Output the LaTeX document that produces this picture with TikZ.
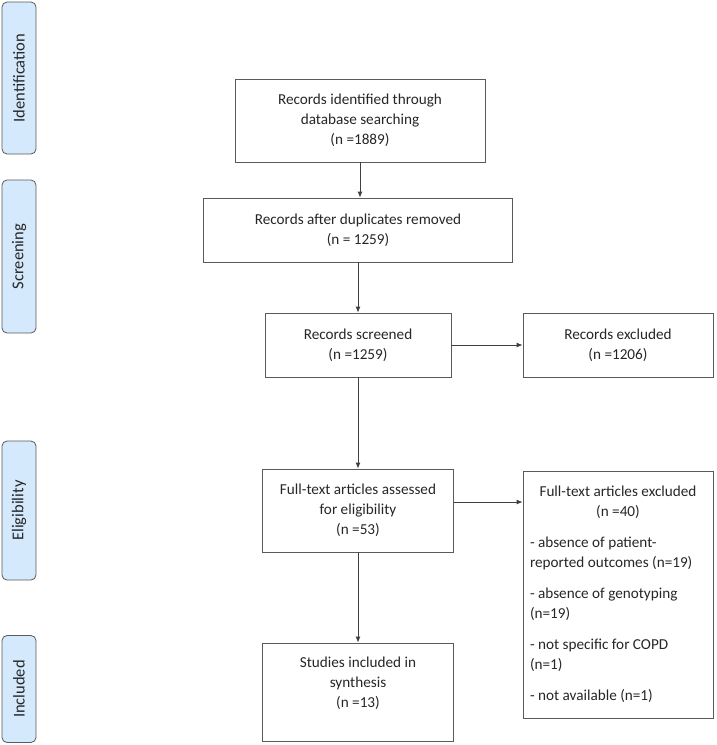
\documentclass[tikz,border=0pt]{standalone}
\usepackage{fontspec}
\setmainfont{Carlito}
\usetikzlibrary{arrows.meta}
\definecolor{stagefill}{RGB}{212,233,252}
\definecolor{boxline}{RGB}{90,90,90}

\begin{document}
\begin{tikzpicture}[x=1pt, y=-1pt]
	\tikzstyle{stage} = [rectangle, rounded corners=5pt, draw=boxline, thick, fill=stagefill, rotate=90, minimum height=34pt, inner sep=0pt, font=\fontsize{16.5}{20}\selectfont, text=black!85]
	\tikzstyle{box} = [rectangle, draw=boxline, thick, align=center, inner sep=0pt, font=\fontsize{15.2}{20}\selectfont, text=black!85]
	\tikzstyle{edge} = [-{Latex[length=6pt,width=5pt]}, thick, draw=black!75]
	\useasboundingbox (0,0) rectangle (716,745);
	\node[stage, minimum width=152pt](ident) at (19,78){Identification};
	\node[stage, minimum width=153pt](screen) at (19,256.5){Screening};
	\node[stage, minimum width=139pt](elig) at (19,510.5){Eligibility};
	\node[stage, minimum width=107pt](incl) at (19,689){Included};
	\node[box, minimum width=250pt, minimum height=83pt](found) at (360,120.5){Records identified through\\database searching\\(n =1889)};
	\node[box, minimum width=309pt, minimum height=64pt](dupes) at (358,230){Records after duplicates removed\\(n = 1259)};
	\node[box, minimum width=186pt, minimum height=64pt](screened) at (358,345){Records screened\\(n =1259)};
	\node[box, minimum width=190pt, minimum height=64pt](excluded) at (618,345){Records excluded\\(n =1206)};
	\node[box, minimum width=191pt, minimum height=83pt](fulltext) at (358,510.5){Full-text articles assessed\\for eligibility\\(n =53)};
	\node[box, minimum width=190pt, minimum height=247pt, align=left](ftexcl) at (618,594.5){%
		\makebox[176pt][c]{Full-text articles excluded}\\
		\makebox[176pt][c]{(n =40)}\\[11pt]
		- absence of patient-\\
		reported outcomes (n=19)\\[11pt]
		- absence of genotyping\\
		(n=19)\\[11pt]
		- not specific for COPD\\
		(n=1)\\[11pt]
		- not available (n=1)};
	\node[box, minimum width=191pt, minimum height=98pt](studies) at (358,692){Studies included in\\synthesis\\(n =13)\\\mbox{}};
	\draw[edge](found.south) -- (found.south |- dupes.north);
	\draw[edge](dupes) -- (screened);
	\draw[edge](screened) -- (fulltext);
	\draw[edge](fulltext) -- (studies);
	\draw[edge](screened) -- (excluded);
	\draw[edge]([yshift=8.5pt]fulltext.east) -- ([yshift=8.5pt]fulltext.east -| ftexcl.west);
\end{tikzpicture}
\end{document}
